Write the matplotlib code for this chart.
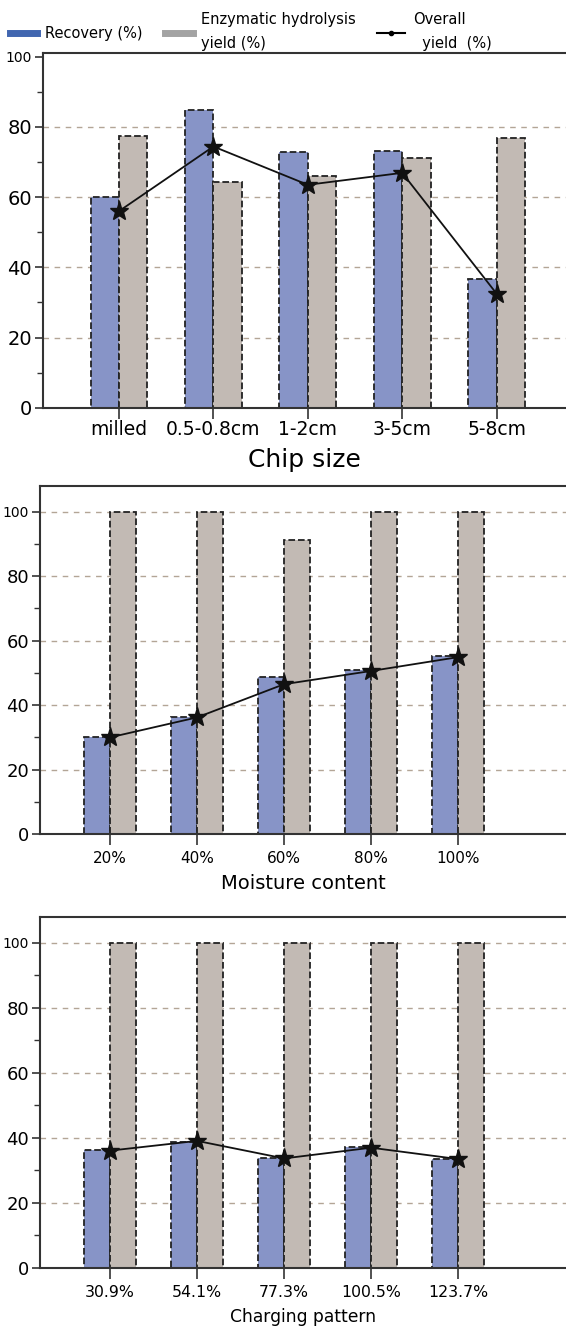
import matplotlib
matplotlib.use("Agg")
import matplotlib.pyplot as plt
import numpy as np
from matplotlib.lines import Line2D

# data
chip_sizes = ['milled', '0.5-0.8cm', '1-2cm', '3-5cm', '5-8cm']
chip_recovery = [60.0, 84.7, 72.9, 73.2, 36.7]
chip_hydrolysis = [77.5, 64.2, 66.1, 71.0, 76.9]
chip_overall = [56.0, 74.4, 63.5, 66.9, 32.5]

moisture = ['20%', '40%', '60%', '80%', '100%']
moist_recovery = [30.2, 36.4, 48.6, 50.9, 55.1]
moist_hydrolysis = [100, 100, 91.1, 100, 100]
moist_overall = [30.0, 36.2, 46.5, 50.6, 54.9]

charging = ['30.9%', '54.1%', '77.3%', '100.5%', '123.7%']
charge_recovery = [36.3, 38.9, 33.7, 37.3, 33.5]
charge_hydrolysis = [100, 100, 100, 100, 100]
charge_overall = [36.1, 39.1, 33.7, 37.0, 33.5]

blue = '#8794c7'
gray = '#c2bab4'
blue_leg = '#4166b0'
gray_leg = '#a3a3a3'
grid_col = '#b3a596'

fig = plt.figure(figsize=(5.66, 13.33), dpi=100)

panels = [
    dict(cats=chip_sizes, rec=chip_recovery, hyd=chip_hydrolysis, ov=chip_overall,
         xlabel='Chip size', xl_size=18, xt_size=13.5, yt_size=14, xpad=1, lpad=6,
         rect=[0.076, 0.6940, 0.924, 0.2662], xlim=(-0.805, 4.735), ytop=101, grid100=False),
    dict(cats=moisture, rec=moist_recovery, hyd=moist_hydrolysis, ov=moist_overall,
         xlabel='Moisture content', xl_size=14, xt_size=11, yt_size=13, xpad=4, lpad=6,
         rect=[0.0707, 0.3743, 0.9293, 0.2611], xlim=(-0.805, 5.24), ytop=108, grid100=True),
    dict(cats=charging, rec=charge_recovery, hyd=charge_hydrolysis, ov=charge_overall,
         xlabel='Charging pattern', xl_size=12.3, xt_size=11.3, yt_size=13, xpad=4, lpad=6,
         rect=[0.0707, 0.0488, 0.9293, 0.2633], xlim=(-0.805, 5.24), ytop=108, grid100=True),
]

w = 0.3
for p in panels:
    ax = fig.add_axes(p['rect'])
    x = np.arange(len(p['cats']))
    ax.bar(x - w / 2, p['rec'], w, color=blue, edgecolor='#222222', linestyle='--', linewidth=1.3, zorder=2)
    ax.bar(x + w / 2, p['hyd'], w, color=gray, edgecolor='#222222', linestyle='--', linewidth=1.3, zorder=2)
    ax.plot(x, p['ov'], color='#111111', lw=1.3, marker='*', markersize=14, zorder=3)

    ax.set_xlim(*p['xlim'])
    ax.set_ylim(0, p['ytop'])
    yt = [0, 20, 40, 60, 80, 100]
    ax.set_yticks(yt)
    ax.set_yticklabels([str(v) for v in yt], fontsize=p['yt_size'])
    ax.get_yticklabels()[-1].set_fontsize(10)
    ax.set_yticks(np.arange(10, 100, 20), minor=True)
    ax.set_xticks(x)
    ax.set_xticklabels(p['cats'], fontsize=p['xt_size'])
    ax.set_xlabel(p['xlabel'], fontsize=p['xl_size'], labelpad=p['lpad'])

    ax.grid(axis='y', linestyle=(0, (4, 4)), color=grid_col, lw=1)
    if not p['grid100']:
        ax.get_ygridlines()[-1].set_visible(False)
    ax.set_axisbelow(True)
    ax.tick_params(axis='y', which='major', length=6, width=1.2, color='#333333', pad=2)
    ax.tick_params(axis='y', which='minor', length=4, width=1.0, color='#333333')
    ax.tick_params(axis='x', length=8, width=1.2, color='#333333', pad=p['xpad'])
    for s in ['left', 'bottom', 'top']:
        ax.spines[s].set_linewidth(1.5)
        ax.spines[s].set_color('#333333')
    ax.spines['right'].set_visible(False)

handles = [Line2D([], [], color=blue_leg, lw=5),
           Line2D([], [], color=gray_leg, lw=5),
           Line2D([], [], color='black', lw=1.5, marker='o', markersize=3)]
labels = ['Recovery (%)', 'Enzymatic hydrolysis\nyield (%)', 'Overall\n  yield  (%)']
leg = fig.legend(handles, labels, loc='upper left', bbox_to_anchor=(0.012, 0.993), ncol=3,
                 frameon=False, fontsize=10.5, handlelength=1.9, columnspacing=1.5,
                 handletextpad=0.55, borderaxespad=0, borderpad=0.2)
for t in leg.get_texts():
    t.set_linespacing(1.75)

fig.savefig('out.png', dpi=100)
